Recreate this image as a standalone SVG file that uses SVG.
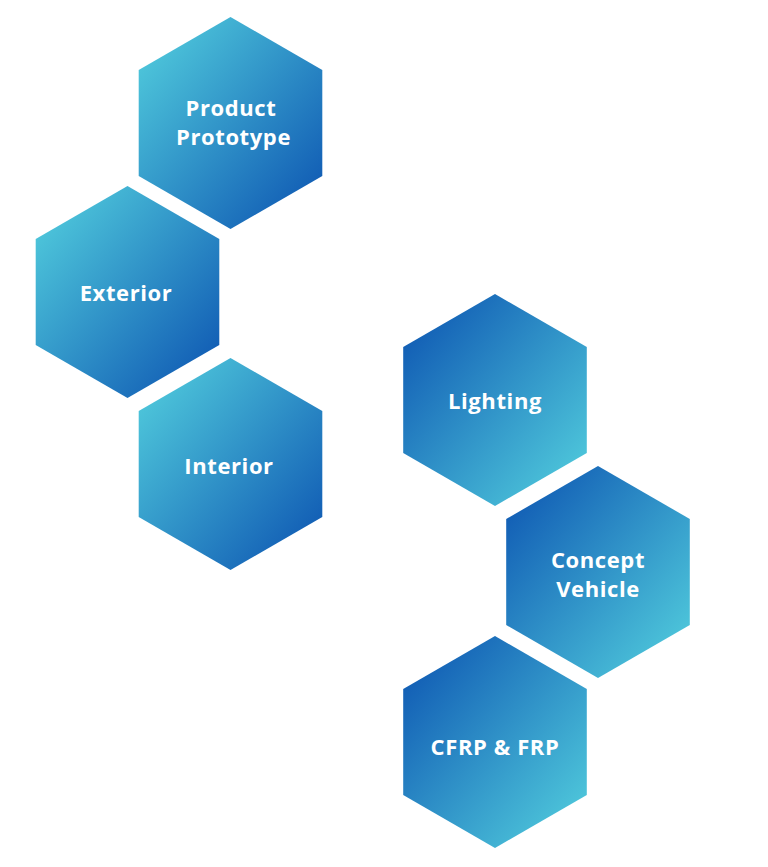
<svg xmlns="http://www.w3.org/2000/svg" width="768" height="867" viewBox="0 0 768 867">
<defs>
<linearGradient id="gL" x1="0" y1="0" x2="1" y2="1">
<stop offset="0" stop-color="#55d3df"/>
<stop offset="1" stop-color="#0a50b0"/>
</linearGradient>
<linearGradient id="gR" x1="0" y1="0" x2="1" y2="1">
<stop offset="0" stop-color="#0a50b0"/>
<stop offset="1" stop-color="#55d3df"/>
</linearGradient>
<polygon id="hex" points="0,-106 91.8,-53 91.8,53 0,106 -91.8,53 -91.8,-53"/>
</defs>
<style>
text{font-family:"Open Sans","Noto Sans",sans-serif;font-weight:700;font-size:22px;fill:#ffffff;text-anchor:middle;letter-spacing:0.6px}
</style>
<rect width="768" height="867" fill="#ffffff"/>
<g id="product-prototype">
<use href="#hex" x="230.5" y="123" fill="url(#gL)"/>
<text x="231" y="116">Product</text>
<text x="233.5" y="145">Prototype</text>
</g>
<g id="exterior">
<use href="#hex" x="127.5" y="292" fill="url(#gL)"/>
<text x="126" y="301">Exterior</text>
</g>
<g id="interior">
<use href="#hex" x="230.5" y="464" fill="url(#gL)"/>
<text x="229" y="474">Interior</text>
</g>
<g id="lighting">
<use href="#hex" x="495" y="400" fill="url(#gR)"/>
<text x="495" y="409">Lighting</text>
</g>
<g id="concept-vehicle">
<use href="#hex" x="598" y="572" fill="url(#gR)"/>
<text x="598" y="568">Concept</text>
<text x="598" y="597">Vehicle</text>
</g>
<g id="cfrp-frp">
<use href="#hex" x="495" y="742" fill="url(#gR)"/>
<text x="495" y="755">CFRP &amp; FRP</text>
</g>
<g id="connectors"/>
</svg>
